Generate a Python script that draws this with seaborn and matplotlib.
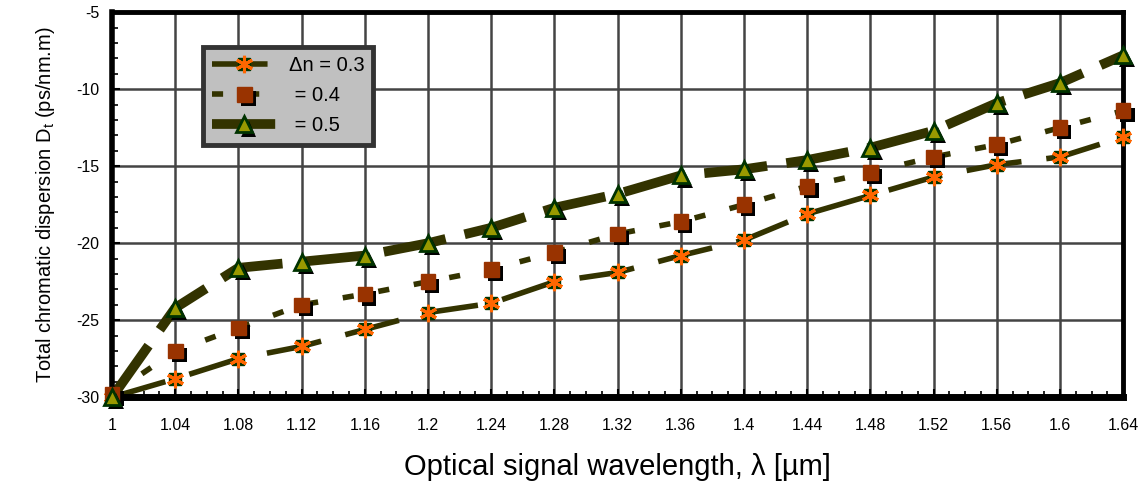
import numpy as np
import pandas as pd
import seaborn as sns
import matplotlib
matplotlib.use('Agg')
import matplotlib.pyplot as plt
import matplotlib.patheffects as pe
from matplotlib.legend_handler import HandlerTuple

# wavelength in micrometres
wavelength = [1.00, 1.04, 1.08, 1.12, 1.16, 1.20, 1.24, 1.28, 1.32,
              1.36, 1.40, 1.44, 1.48, 1.52, 1.56, 1.60, 1.64]

# total chromatic dispersion (ps/nm.m) for each index difference
disp_03 = [-30.0, -28.8, -27.5, -26.7, -25.6, -24.5, -23.9, -22.5, -21.9,
           -20.8, -19.8, -18.1, -16.9, -15.7, -14.9, -14.4, -13.1]
disp_04 = [-29.8, -27.0, -25.5, -24.0, -23.3, -22.5, -21.7, -20.6, -19.4,
           -18.6, -17.5, -16.3, -15.4, -14.4, -13.6, -12.5, -11.4]
disp_05 = [-30.0, -24.2, -21.6, -21.2, -20.8, -20.0, -19.0, -17.7, -16.8,
           -15.6, -15.2, -14.6, -13.8, -12.7, -10.9, -9.6, -7.8]

labels = ['\u0394n = 0.3', ' = 0.4', ' = 0.5']

sns.set_style('white')
plt.rcParams['font.family'] = ['Liberation Sans', 'DejaVu Sans']
plt.rcParams['mathtext.fontset'] = 'custom'
plt.rcParams['mathtext.rm'] = 'Liberation Sans'
plt.rcParams['axes.unicode_minus'] = False
for k in ['text.color', 'axes.labelcolor', 'xtick.color', 'ytick.color']:
    plt.rcParams[k] = 'black'

fig = plt.figure(figsize=(11.47, 4.88), dpi=100)
ax = fig.add_axes([0.0977, 0.186, 0.8815, 0.789])

line_col = '#333300'
shadow = [pe.SimplePatchShadow(offset=(3, -3), shadow_rgbFace='black', alpha=1.0), pe.Normal()]

# lines
l3 = sns.lineplot(x=wavelength, y=disp_03, ax=ax, color=line_col, lw=4,
                  linestyle=(0, (10, 4.5))).lines[-1]
l4 = sns.lineplot(x=wavelength, y=disp_04, ax=ax, color=line_col, lw=4,
                  linestyle=(0, (2, 4.5))).lines[-1]
l5 = sns.lineplot(x=wavelength, y=disp_05, ax=ax, color=line_col, lw=7,
                  linestyle=(0, (6.5, 2))).lines[-1]
for ln in (l3, l4, l5):
    ln.set_dash_capstyle('butt')
    ln.set_clip_on(False)

# markers
m3a, = ax.plot(wavelength, disp_03, ls='none', marker='s', ms=8.5,
               mfc='#003300', mec='#003300', zorder=4, clip_on=False)
m3b, = ax.plot(wavelength, disp_03, ls='none', marker=(6, 2, 0), ms=12.5,
               mec='#ff6600', mew=2.2, zorder=5, clip_on=False)
m4, = ax.plot(wavelength, disp_04, ls='none', marker='s', ms=10.5,
              mfc='#993300', mec='#993300', zorder=5, path_effects=shadow,
              clip_on=False)
m5, = ax.plot(wavelength, disp_05, ls='none', marker='^', ms=11.5,
              mfc='#999900', mec='#003300', mew=2, zorder=5, path_effects=shadow,
              clip_on=False)

ax.set_xlim(1.0, 1.64)
ax.set_ylim(-30, -5)
xt = np.round(np.arange(1.0, 1.641, 0.04), 2)
ax.set_xticks(xt)
ax.set_xticklabels(['%g' % v for v in xt])
ax.set_xticks(np.arange(1.0, 1.641, 0.01), minor=True)
ax.set_yticks(np.arange(-30, -4, 5))
ax.set_yticks(np.arange(-30, -4, 1), minor=True)
ax.grid(True, which='major', color='#444444', lw=1.8)
ax.set_axisbelow(True)
ax.tick_params(which='major', direction='in', length=6, width=1.5, labelsize=11.5, pad=9)
ax.tick_params(which='minor', direction='in', length=4, width=1.2)
ax.tick_params(axis='x', which='both', bottom=True, top=False)
ax.tick_params(axis='x', which='major', pad=15)
ax.tick_params(axis='y', which='both', left=True, right=False)

for side in ['left', 'bottom', 'right', 'top']:
    ax.spines[side].set_visible(True)
    ax.spines[side].set_color('black')
    ax.spines[side].set_linewidth(3.5)
ax.spines['bottom'].set_linewidth(5)
ax.spines['left'].set_linewidth(4)

ax.set_xlabel('Optical signal wavelength, \u03bb [\u00b5m]', fontsize=21, labelpad=14)
ax.set_ylabel('Total chromatic dispersion D$_\\mathrm{t}$ (ps/nm.m)', fontsize=14.5, labelpad=14)

leg = ax.legend([(l3, m3a, m3b), (l4, m4), (l5, m5)], labels,
                handler_map={tuple: HandlerTuple(ndivide=1)},
                loc='upper left', bbox_to_anchor=(0.09, 0.909), borderaxespad=0,
                fontsize=14.5, handlelength=3.2, handletextpad=0.6,
                labelspacing=0.55, fancybox=False, framealpha=1, borderpad=0.45)
leg.get_frame().set_facecolor('#c0c0c0')
leg.get_frame().set_edgecolor('#333333')
leg.get_frame().set_linewidth(3.5)

fig.savefig('out.png', dpi=100)
